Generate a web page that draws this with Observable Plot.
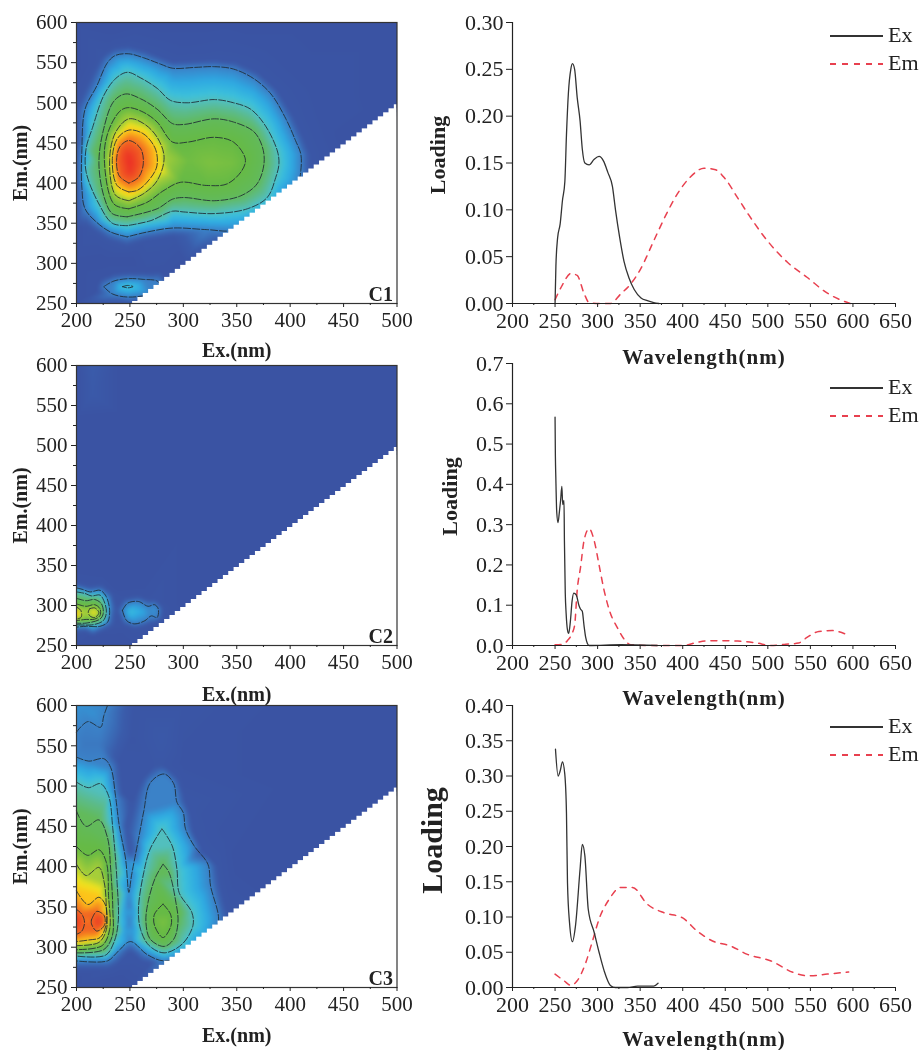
<!DOCTYPE html>
<html>
<head>
<meta charset="utf-8">
<script src="https://cdn.jsdelivr.net/npm/d3@7"></script>
<script src="https://cdn.jsdelivr.net/npm/@observablehq/plot@0.6"></script>
<style>
html,body{margin:0;padding:0;background:#fff;}
#page{position:relative;width:921px;height:1050px;overflow:hidden;font-family:"Liberation Serif",serif;color:#222;filter:blur(.35px);}
#page svg{position:absolute;background:transparent;}
.lg{position:absolute;font-size:22px;line-height:22px;}
.sw{position:absolute;left:830px;width:53px;height:1.5px;}
</style>
</head>
<body>
<div id="page"></div>
<script>
// ---------- EEM contour lines: [Ex nm, Em nm] ----------
const c1L1=[[247.5,333],[232,339],[219,351],[208,368],[205,395],[205,440],[208,492],[219,521],[229,550],[236.5,559],[249,561],[263,556],[279,548],[290,543],[310,544],[329,545],[347,542],[366,530],[382,511],[396,480],[405,453],[410,436],[410,416],[408,403],[394,378],[375,358],[347,341],[322,342],[290,344],[266,339]];
const c1L2=[[247.5,347],[233.5,350],[221,374],[209,414],[209,443],[215,469],[225.5,509],[236.5,530],[247.5,538],[260,531],[275.5,518],[288,503],[303.5,500],[329,504],[347,500],[363,492],[377,471],[388,440],[389.5,424],[386.5,407],[378.5,382],[360,368],[329,362],[300.5,364],[290,365],[269,353]];
const c1L3=[[247.5,358],[233.5,362],[226,382],[221,424],[225,465],[235,502],[246,511],[260,505],[275.5,492],[290,474],[300.5,473],[329,480],[347,476],[366,464],[374,445],[375.5,424],[369,399],[353.5,384],[329,378],[300.5,382],[290,380],[275.5,368]];
const c1L4=[[249,368],[235,374],[226,432],[230,465],[241,490],[249,494],[263,488],[275.5,476],[290,451],[304,451],[329,457],[347,451],[358,430],[355,416],[341,399],[322,397],[297.5,401],[282,391],[266,376]];
const c1L5=[[249,378],[236.5,385],[231,428],[236.5,463],[249,480],[263,474],[275.5,457],[282,432],[275.5,403],[263,387]];
const c1L6=[[249,389],[238,397],[233.5,428],[238,455],[249,466],[263,461],[274,442],[275,420],[266,401],[257,391]];
const c1L7=[[249,400],[240,409],[237.5,428],[240.5,445],[249,453],[260,443],[262.5,424],[258,407]];
const c1Low1=[[225.5,271],[235,278],[249,281],[263,280],[275.5,278],[279,271],[269,262],[249,258],[233.5,262]];
const c1Low2=[[243,271],[248,272.5],[253,271],[248,269.5]];
// edge of the faint glow just outside the outer contour
const c1Halo=[[247,322],[228,330],[212,345],[200,368],[200,395],[200,440],[200,492],[212,528],[224,558],[236,568],[249,570],[264,565],[280,556],[290,551],[310,552],[330,553],[350,550],[370,538],[388,517],[403,484],[413,455],[419,436],[420,416],[290,334],[265,329]];
// other read-off intensities [Ex, Em, level]
const c1Extra=[[250,425,8.5],[248,435,8.3],[250,415,8.3],[325,425,4.35],[345,425,4.25],[305,428,4.15],[248,271,1.85],
 [200,250,0],[200,300,0],[200,345,0],[200,540,0],[200,600,0],[260,600,0],[340,600,0],[420,600,0],[500,600,0],[500,500,0],[450,450,0],[430,480,.05],[420,520,.05],[380,570,.05],[300,575,.05],[235,590,0],[219,265,.05],[222,280,.05],[236,287,.05],[250,288,.05],[265,288,.05],[280,290,.05],[290,262,.05],[250,250,.1],[250,305,0],[300,300,0],[225,305,0],[400,300,0],[340,320,0],[500,250,0]];

const c2A1=[[200,322],[206,320],[212.5,317],[222,319],[227.5,312],[231,294],[229,279],[222,274],[209,274],[200,273]];
const c2A2=[[200,317],[208,315],[214,312],[222,313],[225.6,306],[228,292],[225,281],[215.6,276],[200,276]];
const c2A3=[[200,309],[209,306],[217,307.5],[223.4,302],[225,290],[222,283],[209,278],[200,278]];
const c2A4=[[200,302],[209,299],[217,301],[222,296],[222,287.5],[217,283],[208,282.5],[200,281]];
const c2A5=[[212.5,296],[217,297],[221,291],[217,285],[212.5,287],[211,292]];
const c2A5b=[[200,298],[204,294],[204.4,285.4],[200,283]];
const c2B1=[[243,294],[248,303],[258,305],[267,299],[273,301],[276.5,296],[275.5,285],[270,287],[264,281],[254.6,277],[247,281]];
const c2Halo=[[200,327],[212,323],[224,325],[233,316],[237,294],[235,276],[224,268],[209,268],[200,268],[238,294],[244,308],[258,311],[268,306],[274,307],[282,296],[280,283],[265,275],[254,272],[243,277]];
const c2Extra=[[218,291,5.7],[200,291,6.3],[250.5,292,1.75],[261,292,1.45],[272.6,293,1.2],
 [200,250,0],[215,262,0],[240,262,0],[250,250,0],[238,322,0],[200,345,0],[225,340,0],[260,325,0],[300,300,0],[300,400,0],[400,400,0],[500,500,0],[500,600,0],[400,600,0],[300,600,0],[300,500,0],[200,450,0],[200,535,0],[240,540,0],[240,600,0],[200,600,0],[215,600,.4],[215,585,.35],[215,565,.3],[500,250,0]];

const c3Main=[[200,536],[211.5,531],[225.5,534],[232,523],[236.5,488],[240,451],[246,409],[249,368],[251.5,389],[258,434],[263,469],[269,504],[282,515],[291,503],[294,480],[300,467],[302,447],[310,426],[323,403],[325.5,376],[333,335],[328.6,314],[310,293],[282,283],[266,291],[250.5,307],[238,293.5],[229,283],[200,283]];
const c3Top=[[200,567],[210.6,580],[222.5,573],[225.5,587],[229,600]];
const c3L2=[[200,505],[211,498],[222.5,503],[230,488],[234,447],[238,380],[239,331],[235,306],[227,290],[200,289]];
const c3L3=[[200,469],[209,450],[221,458],[229,436],[232,397],[234,347],[233.5,314],[225.5,297],[200,293]];
const c3L4=[[200,425],[210.5,414],[221,421],[228,405],[230,364],[231,322],[224,302],[200,297]];
const c3L5=[[200,403],[209,389],[221,399],[226,380],[228,347],[228,322],[221,306],[200,302]];
const c3L6=[[200,370],[210.6,353],[221,362],[227.5,351],[227.5,327],[222,312],[211.5,309],[200,307]];
const c3L7a=[[200,347],[205,341],[207.5,331],[205,320],[200,316]];
const c3L7b=[[214,334],[219,344.5],[226,339],[226,327],[219,320],[214,329]];
const c3R2=[[280,447],[289.5,426],[294,397],[296,368],[308,343],[309,327],[299,304],[282,293],[268,302],[260,322],[258,347],[263,393],[269,422]];
const c3R3=[[281,403],[286.5,393],[293,356],[295,331],[291,310],[282,301],[269,310],[265,331],[267,356],[274,387]];
const c3R4=[[281,353.5],[288,341],[288.5,327],[281,312],[273,327],[273,341]];
const c3Halo=[[240,530],[243,490],[247,450],[250,420],[262,510],[272,525],[282,525],[295,510],[302,480],[307,460],[310,440],[318,420],[332,400],[335,375],[342,340],[200,273],[229,273],[242,282],[250,295],[258,284],[270,280]];
const c3Extra=[[200,332,8.2],[220,332,8.2],[209.5,332,6.6],[281,332,4.3],[250,330,.95],[250,350,.9],[245,345,1.3],[245,320,1.3],[254,345,1.3],[254,320,1.3],[205,598,1.15],[215,590,1.15],[208,552,.85],[222,552,.85],
 [200,250,0],[200,262,0],[240,262,0],[250,250,0],[252,480,.1],[252,560,.1],[280,560,.25],[300,530,.05],[340,440,.05],[350,400,0],[400,500,0],[400,600,0],[300,600,.1],[255,600,.1],[500,600,0],[500,500,0],[500,250,0],[300,280,0]];

// ---------- colour ramp of the intensity levels ----------
const rampLevels=[0,.4,1,1.4,1.8,2,2.5,3,4,5,5.5,6,7,8.5];
const rampColors=["#3a53a3","#3a5cab","#3b82c8","#2ea8e2","#3cc0dc","#52bfbe","#5cbb88","#62ba5a","#66ba45","#a6ce39","#f0e41f","#fcc41a","#f26522","#ec2e25"];

// ---------- loading spectra: wavelength, loading ----------
const ex1W=[250,251,253,256,258.7,261.5,263.4,265.7,268.5,270.4,273,276,279.4,282,285,290,296,301.7,307,312,317.4,321,326,331,337,343,351,358.5,366,372];
const ex1V=[0,.04,.07,.085,.11,.13,.18,.225,.25,.256,.25,.22,.195,.165,.15,.148,.154,.157,.152,.14,.125,.1,.07,.045,.027,.015,.006,.003,.001,0];
const em1W=[250,258.7,268.5,276,284,290,301.7,315,327,339,350.6,366,380,393.7,409,425,438.7,450,464,478,499,523,546,570,585,597];
const em1V=[.004,.02,.032,.03,.011,.001,0,0,.01,.021,.037,.067,.094,.117,.135,.1445,.1427,.133,.1136,.094,.0675,.044,.028,.011,.004,0];
const ex2W=[250,250.4,250.9,252,253.5,255,256.5,258,259,260.5,261,262,263,264.5,266,268,270,272,275,278,280,282,284,286,288,290,327,370];
const ex2V=[.567,.47,.418,.33,.305,.33,.36,.395,.35,.36,.26,.13,.08,.04,.03,.06,.11,.13,.125,.1,.09,.085,.05,.02,.005,0,.002,0];
const em2W=[250,258,264.5,270,273,276,280,284,290,296,301.7,307.6,315,323,331,339,366,401,417,431,464.6,487.5,503,521,536,546,560,575.6,595];
const em2V=[.002,.003,.012,.03,.05,.137,.195,.26,.29,.26,.2,.137,.08,.045,.016,.002,0,0,.008,.012,.011,.006,0,.003,.006,.02,.035,.037,.025];
const ex3W=[250.5,253.6,256,258.7,261.4,263.4,264.6,267,270.4,274,279.4,282,285,289,296,301.7,307.6,315,321,335,347,366,371];
const ex3V=[.338,.3,.307,.32,.303,.248,.149,.092,.065,.0875,.168,.203,.187,.111,.078,.05,.024,.003,0,0,.002,.002,.006];
const em3W=[250,260.6,268.5,276,286,294,301.7,313.5,327,341,358.5,378,399.5,417,435,456,476,503,530.6,548,570,595];
const em3V=[.019,.0095,.003,.0095,.035,.066,.097,.125,.142,.142,.118,.106,.099,.08,.066,.059,.047,.038,.021,.0165,.019,.022];

// ---------- axes ----------
const eemMajor=[200,250,300,350,400,450,500];
const eemMinor=[225,275,325,375,425,475];
const emMajor=[250,300,350,400,450,500,550,600];
const emMinor=[275,325,375,425,475,525,575];
const wlMajor=[200,250,300,350,400,450,500,550,600,650];
const wlMinor=[225,275,325,375,425,475,525,575,625];
const stairEx=d3.range(252.5,500,5);

const FONT="Liberation Serif";
const page=document.getElementById("page");
const TXT="#222";

function eem(levels,extra,{name,top,height,marginBottom,exDy,nameDy}){
  const pts=[],lines=[];
  levels.forEach(([v,arr,closed,hidden],i)=>{
    arr.forEach(([ex,em])=>pts.push({ex,em,v}));
    if(!hidden)(closed?arr.concat([arr[0]]):arr).forEach(([ex,em])=>lines.push({ex,em,id:i}));
  });
  extra.forEach(([ex,em,v])=>pts.push({ex,em,v}));
  const svg=Plot.plot({
    width:420,height,marginLeft:76,marginRight:23.5,marginTop:22,marginBottom,
    x:{domain:[200,500]},y:{domain:[250,600]},
    color:{type:"linear",domain:rampLevels,range:rampColors,clamp:true},
    style:{fontFamily:FONT,color:TXT,background:"transparent",overflow:"visible",top:top+"px",left:"0px"},
    marks:[
      Plot.raster(pts,{x:"ex",y:"em",fill:"v",interpolate:"barycentric",pixelSize:1,blur:1.5}),
      Plot.line(lines,{x:"ex",y:"em",z:"id",curve:"catmull-rom",stroke:"#1f2a33",strokeWidth:1,strokeDasharray:"7,2",strokeOpacity:.85}),
      Plot.rect(stairEx,{x1:d=>d,x2:()=>500,y1:()=>250,y2:d=>d,fill:"white"}),
      Plot.frame({stroke:"#333",strokeWidth:1.2}),
      Plot.axisX({ticks:eemMajor,tickSize:4,tickPadding:5,fontSize:21,label:null,tickFormat:d=>String(d)}),
      Plot.axisX({ticks:eemMinor,tickSize:2,fill:null,label:null}),
      Plot.axisY({ticks:emMajor,tickSize:5,tickPadding:4,fontSize:21,label:null,tickFormat:d=>String(d)}),
      Plot.axisY({ticks:emMinor,tickSize:3,fill:null,label:null}),
      Plot.text(["Ex.(nm)"],{frameAnchor:"bottom",dy:exDy,fontSize:20,fontWeight:"bold",fill:TXT}),
      Plot.text(["Em.(nm)"],{frameAnchor:"left",textAnchor:"middle",rotate:-90,dx:-56,fontSize:20,fontWeight:"bold",fill:TXT}),
      Plot.text([name],{frameAnchor:"bottom-right",dx:-4,dy:nameDy,fontSize:20,fontWeight:"bold",fill:TXT})
    ]
  });
  page.appendChild(svg);
}

function spectrum(w1,v1,w2,v2,{top,height,marginBottom,yMax,yTicks,fmt,loadDx,loadDy,loadSize,wlDy,lgY1,lgY2}){
  const svg=Plot.plot({
    width:501,height,marginLeft:92,marginRight:26,marginTop:22,marginBottom,
    x:{domain:[200,650]},y:{domain:[0,yMax]},
    style:{fontFamily:FONT,color:TXT,background:"transparent",overflow:"visible",top:top+"px",left:"420px"},
    marks:[
      Plot.line(w2,{x:d=>d,y:(d,i)=>v2[i],stroke:"#e8404f",strokeWidth:1.5,strokeDasharray:"6,6",curve:"monotone-x"}),
      Plot.line(w1,{x:d=>d,y:(d,i)=>v1[i],stroke:"#333",strokeWidth:1.3,curve:"monotone-x"}),
      Plot.ruleX([200],{stroke:"#222",strokeWidth:1.2}),
      Plot.ruleY([0],{stroke:"#222",strokeWidth:1.2}),
      Plot.axisX({ticks:wlMajor,tickSize:4,tickPadding:5,fontSize:22,label:null,tickFormat:d=>String(d)}),
      Plot.axisX({ticks:wlMinor,tickSize:2,fill:null,label:null}),
      Plot.axisY({ticks:yTicks,tickSize:6,tickPadding:3,fontSize:22,label:null,tickFormat:d=>d.toFixed(fmt)}),
      Plot.text(["Wavelength(nm)"],{frameAnchor:"bottom",dy:wlDy,fontSize:21,fontWeight:"bold",fill:TXT}),
      Plot.text(["Loading"],{frameAnchor:"left",textAnchor:"middle",rotate:-90,dx:loadDx,dy:loadDy,fontSize:loadSize,fontWeight:"bold",fill:TXT})
    ]
  });
  svg.querySelectorAll("text").forEach(t=>{if(t.textContent==="Wavelength(nm)")t.style.letterSpacing="1px";});
  page.appendChild(svg);
  [["Ex",lgY1,"#333"],["Em",lgY2,"repeating-linear-gradient(90deg,#e8404f 0 6px,transparent 6px 12px)"]].forEach(([t,y,b])=>{
    const s=document.createElement("div");s.className="sw";s.style.top=y+"px";s.style.background=b;page.appendChild(s);
    const l=document.createElement("div");l.className="lg";l.style.left="888px";l.style.top=(y-11)+"px";l.textContent=t;page.appendChild(l);
  });
}

eem([[1,c1L1,true],[2,c1L2,true],[3,c1L3,true],[4,c1L4,true],[5,c1L5,true],[6,c1L6,true],[7,c1L7,true],[1,c1Low1,true],[1.8,c1Low2,true],[.15,c1Halo,false,true]],c1Extra,
    {name:"C1",top:0,height:363,marginBottom:60,exDy:53,nameDy:-3});
eem([[1,c2A1,false],[2,c2A2,false],[3,c2A3,false],[4,c2A4,false],[5,c2A5,true],[5,c2A5b,false],[1,c2B1,true],[.1,c2Halo,false,true]],c2Extra,
    {name:"C2",top:343,height:362,marginBottom:60,exDy:55,nameDy:-3});
eem([[1,c3Main,false],[1,c3Top,false],[2,c3L2,false],[3,c3L3,false],[4,c3L4,false],[5,c3L5,false],[6,c3L6,false],[7,c3L7a,false],[7,c3L7b,true],[2,c3R2,true],[3,c3R3,true],[4,c3R4,true],[.15,c3Halo,false,true]],c3Extra,
    {name:"C3",top:683,height:367,marginBottom:63,exDy:54,nameDy:-3});

spectrum(ex1W,ex1V,em1W,em1V,{top:0,height:363,marginBottom:60,yMax:.3,yTicks:[0,.05,.1,.15,.2,.25,.3],fmt:2,loadDx:-75,loadDy:-8,loadSize:22,wlDy:60,lgY1:35,lgY2:63});
spectrum(ex2W,ex2V,em2W,em2V,{top:341,height:364,marginBottom:60,yMax:.7,yTicks:[0,.1,.2,.3,.4,.5,.6,.7],fmt:1,loadDx:-63,loadDy:-8,loadSize:22,wlDy:59,lgY1:387,lgY2:415});
spectrum(ex3W,ex3V,em3W,em3V,{top:683,height:367,marginBottom:63,yMax:.4,yTicks:[0,.05,.1,.15,.2,.25,.3,.35,.4],fmt:2,loadDx:-80,loadDy:-6,loadSize:30,wlDy:58,lgY1:726,lgY2:754});
</script>
</body>
</html>
